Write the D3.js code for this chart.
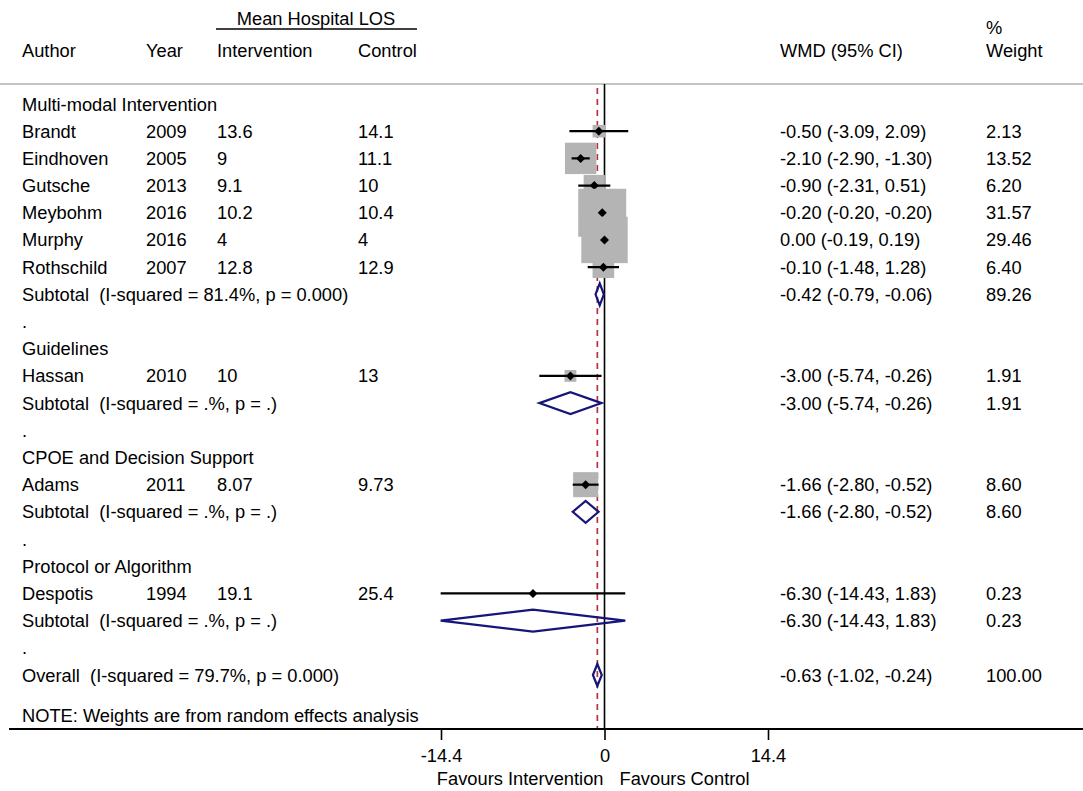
<!DOCTYPE html>
<html>
<head>
<meta charset="utf-8">
<script src="https://cdn.jsdelivr.net/npm/d3@7"></script>
<style>
  html, body { margin: 0; padding: 0; background: #fff; }
  svg text { font-family: "Liberation Sans", Arial, Helvetica, sans-serif; font-size: 18.3px; fill: #000; white-space: pre; }
</style>
</head>
<body>
<svg id="chart" width="1083" height="791"></svg>
<script>
// Study-level data
const authors = ["Brandt", "Eindhoven", "Gutsche", "Meybohm", "Murphy", "Rothschild", "Hassan", "Adams", "Despotis"];
const years = ["2009", "2005", "2013", "2016", "2016", "2007", "2010", "2011", "1994"];
const intervention = ["13.6", "9", "9.1", "10.2", "4", "12.8", "10", "8.07", "19.1"];
const control = ["14.1", "11.1", "10", "10.4", "4", "12.9", "13", "9.73", "25.4"];
const wmd = [-0.50, -2.10, -0.90, -0.20, 0.00, -0.10, -3.00, -1.66, -6.30];
const lower = [-3.09, -2.90, -2.31, -0.20, -0.19, -1.48, -5.74, -2.80, -14.43];
const upper = [2.09, -1.30, 0.51, -0.20, 0.19, 1.28, -0.26, -0.52, 1.83];
const weights = [2.13, 13.52, 6.20, 31.57, 29.46, 6.40, 1.91, 8.60, 0.23];
const studyGroup = [0, 0, 0, 0, 0, 0, 1, 2, 3];

// Subgroups and pooled estimates
const groups = ["Multi-modal Intervention", "Guidelines", "CPOE and Decision Support", "Protocol or Algorithm"];
const subHet = ["81.4%, p = 0.000", ".%, p = .", ".%, p = .", ".%, p = ."];
const subWmd = [-0.42, -3.00, -1.66, -6.30];
const subLower = [-0.79, -5.74, -2.80, -14.43];
const subUpper = [-0.06, -0.26, -0.52, 1.83];
const subWeight = [89.26, 1.91, 8.60, 0.23];

const overall = { wmd: -0.63, lower: -1.02, upper: -0.24, weight: 100.00, het: "79.7%, p = 0.000" };

const axisTicks = [-14.4, 0, 14.4];

// Plain hyphen for negative numbers
const locale = d3.formatLocale({ decimal: ".", thousands: ",", grouping: [3], currency: ["", ""], minus: "-" });
const fmt = locale.format(".2f");
const fmt1 = locale.format(".1f");
const ciText = (m, l, u) => `${fmt(m)} (${fmt(l)}, ${fmt(u)})`;

// Build row list
const rows = [];
groups.forEach((g, gi) => {
  rows.push({ type: "group", label: g });
  authors.forEach((a, i) => {
    if (studyGroup[i] === gi) rows.push({ type: "study", i });
  });
  rows.push({ type: "subtotal", gi });
  rows.push({ type: "spacer" });
});
rows.push({ type: "overall" });
rows.push({ type: "note" });

const svg = d3.select("#chart");

const x = d3.scaleLinear().domain([-14.4, 14.4]).range([441, 768]);
const y = d3.scaleLinear().domain([0, 21]).range([104, 675]);
const boxSide = d3.scaleSqrt().domain([0, 31.57]).range([0, 48]);

const colX = { author: 22, year: 146, interv: 217, control: 358, wmd: 780, weight: 986 };
const axisY = 729;
const topY = 84;
const baseShift = 6.5;

// Header
svg.append("text").attr("x", 316).attr("y", 18 + baseShift).attr("text-anchor", "middle").text("Mean Hospital LOS");
svg.append("line").attr("x1", 216).attr("x2", 417).attr("y1", 29).attr("y2", 29).attr("stroke", "#000").attr("stroke-width", 1.5);
[["Author", colX.author], ["Year", colX.year], ["Intervention", colX.interv], ["Control", colX.control], ["WMD (95% CI)", colX.wmd], ["Weight", colX.weight]]
  .forEach(([t, xx]) => svg.append("text").attr("x", xx).attr("y", 50 + baseShift).text(t));
svg.append("text").attr("x", colX.weight).attr("y", 27 + baseShift).text("%");

svg.append("line").attr("x1", 0).attr("x2", 1083).attr("y1", topY).attr("y2", topY).attr("stroke", "#c4c4c4").attr("stroke-width", 2);

// Reference lines
svg.append("line").attr("x1", x(0)).attr("x2", x(0)).attr("y1", topY).attr("y2", axisY)
  .attr("stroke", "#000").attr("stroke-width", 1.6);
svg.append("line").attr("x1", x(overall.wmd)).attr("x2", x(overall.wmd)).attr("y1", topY + 4).attr("y2", axisY)
  .attr("stroke", "#b8323e").attr("stroke-width", 1.7).attr("stroke-dasharray", "6,5");

// Rows
const diamond = (m, l, u, yy, h) => `M${x(l)},${yy} L${x(m)},${yy - h} L${x(u)},${yy} L${x(m)},${yy + h} Z`;

rows.forEach((r, ri) => {
  const yy = ri < 22 ? y(ri) : y(22.5);
  const ty = yy + baseShift;
  if (r.type === "group") {
    svg.append("text").attr("x", colX.author).attr("y", ty).text(r.label);
  } else if (r.type === "study") {
    const i = r.i;
    svg.append("text").attr("x", colX.author).attr("y", ty).text(authors[i]);
    svg.append("text").attr("x", colX.year).attr("y", ty).text(years[i]);
    svg.append("text").attr("x", colX.interv).attr("y", ty).text(intervention[i]);
    svg.append("text").attr("x", colX.control).attr("y", ty).text(control[i]);
    svg.append("text").attr("x", colX.wmd).attr("y", ty).text(ciText(wmd[i], lower[i], upper[i]));
    svg.append("text").attr("x", colX.weight).attr("y", ty).text(fmt(weights[i]));
    const s = boxSide(weights[i]);
    svg.append("rect").attr("x", x(wmd[i]) - s / 2).attr("y", yy - s / 2).attr("width", s).attr("height", s)
      .attr("fill", "#b4b4b4");
    svg.append("line").attr("x1", x(lower[i])).attr("x2", x(upper[i])).attr("y1", yy).attr("y2", yy)
      .attr("stroke", "#000").attr("stroke-width", 2.2);
    const m = x(wmd[i]);
    svg.append("path").attr("d", `M${m - 4.5},${yy} L${m},${yy - 4.5} L${m + 4.5},${yy} L${m},${yy + 4.5} Z`).attr("fill", "#000");
  } else if (r.type === "subtotal") {
    const g = r.gi;
    svg.append("text").attr("x", colX.author).attr("y", ty).text(`Subtotal  (I-squared = ${subHet[g]})`);
    svg.append("text").attr("x", colX.wmd).attr("y", ty).text(ciText(subWmd[g], subLower[g], subUpper[g]));
    svg.append("text").attr("x", colX.weight).attr("y", ty).text(fmt(subWeight[g]));
    svg.append("path").attr("d", diamond(subWmd[g], subLower[g], subUpper[g], yy, 11))
      .attr("fill", "none").attr("stroke", "#15157a").attr("stroke-width", 2.2).attr("stroke-linejoin", "miter");
  } else if (r.type === "spacer") {
    svg.append("text").attr("x", colX.author).attr("y", ty).text(".");
  } else if (r.type === "overall") {
    svg.append("text").attr("x", colX.author).attr("y", ty).text(`Overall  (I-squared = ${overall.het})`);
    svg.append("text").attr("x", colX.wmd).attr("y", ty).text(ciText(overall.wmd, overall.lower, overall.upper));
    svg.append("text").attr("x", colX.weight).attr("y", ty).text(fmt(overall.weight));
    svg.append("path").attr("d", diamond(overall.wmd, overall.lower, overall.upper, yy, 11))
      .attr("fill", "none").attr("stroke", "#15157a").attr("stroke-width", 2.2);
  } else if (r.type === "note") {
    svg.append("text").attr("x", colX.author).attr("y", ty).text("NOTE: Weights are from random effects analysis");
  }
});

// Axis
svg.append("line").attr("x1", 9).attr("x2", 1083).attr("y1", axisY).attr("y2", axisY).attr("stroke", "#000").attr("stroke-width", 2);
const axis = d3.axisBottom(x).tickValues(axisTicks).tickSize(11).tickPadding(6)
  .tickFormat(d => d === 0 ? "0" : fmt1(d));
const ag = svg.append("g").attr("transform", `translate(0,${axisY})`).call(axis);
ag.select(".domain").remove();
ag.selectAll(".tick line").attr("stroke", "#000").attr("stroke-width", 1.6);
ag.selectAll(".tick text").attr("font-size", null).attr("font-family", null).attr("fill", "#000").attr("dy", "0.9em");

svg.append("text").attr("x", x(0) - 1).attr("y", 778 + baseShift).attr("text-anchor", "end").text("Favours Intervention");
svg.append("text").attr("x", x(0) + 15).attr("y", 778 + baseShift).text("Favours Control");
</script>
</body>
</html>
